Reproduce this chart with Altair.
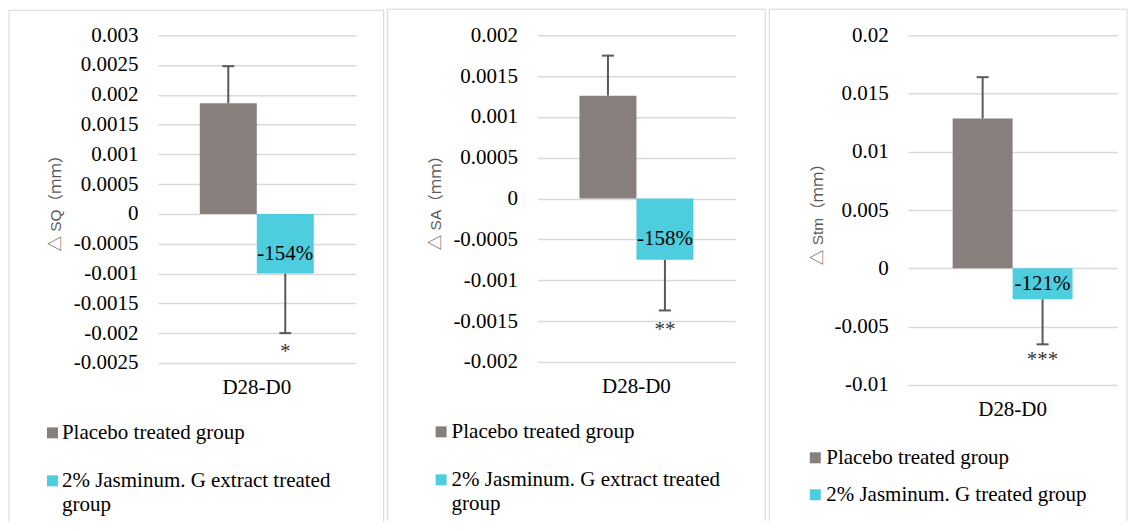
import altair as alt
import pandas as pd

# ---------------- data ----------------
category = ["D28-D0"]
groups_12 = ["Placebo treated group", "2% Jasminum. G extract treated group"]
groups_3 = ["Placebo treated group", "2% Jasminum. G treated group"]
legend_12 = ["Placebo treated group", "2% Jasminum. G extract treated\ngroup"]
legend_3 = ["Placebo treated group", "2% Jasminum. G treated group"]

sq_values = [0.00186, -0.00100]
sq_errors = [0.00062, 0.00100]
sq_labels = ["", "-154%"]
sq_sig = ["", "*"]
sq_ticks = [-0.0025, -0.002, -0.0015, -0.001, -0.0005, 0, 0.0005, 0.001, 0.0015, 0.002, 0.0025, 0.003]

sa_values = [0.00126, -0.00075]
sa_errors = [0.00049, 0.00062]
sa_labels = ["", "-158%"]
sa_sig = ["", "**"]
sa_ticks = [-0.002, -0.0015, -0.001, -0.0005, 0, 0.0005, 0.001, 0.0015, 0.002]

stm_values = [0.01286, -0.00266]
stm_errors = [0.00354, 0.00386]
stm_labels = ["", "-121%"]
stm_sig = ["", "***"]
stm_ticks = [-0.01, -0.005, 0, 0.005, 0.01, 0.015, 0.02]

# ---------------- style ----------------
COLORS = ["#877f7b", "#4ecdde"]
SERIF = "Liberation Serif"
SANS = "Liberation Sans, Noto Sans CJK SC"
GRID = "#d9d9d9"
FRAME = "#d6d6d6"
ERR = "#595959"


def panel(values, errors, labels, sig, groups, legend_text, ticks, title,
          W, H, pad_outer, frame, title_x, leg_sq_x, leg_txt_x, leg_ys,
          label_dy, sig_dy):
    ends = [v + (e if v >= 0 else -e) for v, e in zip(values, errors)]
    df = pd.DataFrame({
        "cat": category * len(groups),
        "group": groups,
        "value": values,
        "end": ends,
        "label": labels,
        "sig": sig,
        "legend": legend_text,
    })
    yscale = alt.Scale(domain=[ticks[0], ticks[-1]], nice=False, zero=False)
    x_axis = alt.Axis(title=None, domain=False, ticks=False, labelAngle=0,
                      labelPadding=14, labelFont=SERIF, labelFontSize=21,
                      labelColor="#000000")
    x = alt.X("cat:N", scale=alt.Scale(paddingInner=0, paddingOuter=pad_outer), axis=x_axis)
    xoff = alt.XOffset("group:N", scale=alt.Scale(domain=groups, paddingInner=0, paddingOuter=0))
    color = alt.Color("group:N", scale=alt.Scale(domain=groups, range=COLORS), legend=None)
    y_axis = alt.Axis(values=ticks, labelExpr="'' + datum.value", domain=False, ticks=False,
                      grid=True, gridColor=GRID, gridWidth=1.5, labelPadding=20,
                      labelFont=SERIF, labelFontSize=21, labelColor="#000000",
                      title=title, titleFont=SANS, titleFontSize=15.5, titleFontWeight="normal",
                      titleColor="#595959", titleX=title_x, titleBaseline="middle")

    def Y(field):
        return alt.Y(field, scale=yscale, axis=y_axis)

    base = alt.Chart(df)

    bars = base.mark_bar().encode(x=x, xOffset=xoff, y=Y("value:Q"), color=color)
    err = base.mark_rule(color=ERR, strokeWidth=2).encode(
        x=x, xOffset=xoff, y=Y("value:Q"), y2="end:Q")
    cap = base.mark_tick(color=ERR, size=12, thickness=2, opacity=1).encode(
        x=x, xOffset=xoff, y=Y("end:Q"))
    lab = base.transform_filter(alt.datum.label != "").mark_text(
        font=SERIF, fontSize=21, color="#000000", baseline="alphabetic", dy=label_dy).encode(
        x=x, xOffset=xoff, y=Y("value:Q"), text="label:N")
    star = base.transform_filter(alt.datum.sig != "").mark_text(
        font=SERIF, fontSize=21, color="#333333", baseline="top", dy=sig_dy).encode(
        x=x, xOffset=xoff, y=Y("end:Q"), text="sig:N")

    layers = [bars, err, cap, lab, star]

    for i, g in enumerate(groups):
        sq = base.transform_filter(alt.datum.group == g).mark_square(
            size=121, opacity=1).encode(
            x=alt.value(leg_sq_x), y=alt.value(leg_ys[i]), color=color)
        tx = base.transform_filter(alt.datum.group == g).mark_text(
            align="left", baseline="alphabetic", lineBreak="\n", lineHeight=24,
            font=SERIF, fontSize=21, color="#000000").encode(
            x=alt.value(leg_txt_x), y=alt.value(leg_ys[i] + 6), text="legend:N")
        layers += [sq, tx]

    one = pd.DataFrame({"k": [0]})
    l, r, t, b = frame
    left = alt.Chart(one).mark_rule(color=FRAME, strokeWidth=1).encode(
        x=alt.value(l), y=alt.value(t), y2=alt.value(b))
    right = alt.Chart(one).mark_rule(color=FRAME, strokeWidth=1).encode(
        x=alt.value(r), y=alt.value(t), y2=alt.value(b))
    top = alt.Chart(one).mark_rule(color=FRAME, strokeWidth=1).encode(
        x=alt.value(l), x2=alt.value(r), y=alt.value(t))
    layers += [left, right, top]

    return alt.layer(*layers).properties(width=W, height=H)


p1 = panel(sq_values, sq_errors, sq_labels, sq_sig, groups_12, legend_12, sq_ticks,
           "△ SQ（ｍｍ）", 198, 328, 0.368, (-149, 226, -25, 487), -102,
           -105.5, -96, [398, 446], -14, 8)
p2 = panel(sa_values, sa_errors, sa_labels, sa_sig, groups_12, legend_12, sa_ticks,
           "△ SA（ｍｍ）", 198, 327, 0.368, (-150, 228, -26, 486), -102,
           -96.5, -86, [397, 445], -15, 9)
p3 = panel(stm_values, stm_errors, stm_labels, stm_sig, groups_3, legend_3, stm_ticks,
           "△ Stm（ｍｍ）", 209, 350, 0.371, (-139, 219, -26, 486), -91,
           -93, -82, [423, 460], -9, 5)

chart = (
    alt.hconcat(p1, p2, p3, spacing=2)
    .resolve_scale(color="independent", xOffset="independent")
    .properties(padding=0)
    .configure_view(strokeWidth=0)
)

chart.save("out.html", embed_options={"renderer": "svg", "actions": False})
